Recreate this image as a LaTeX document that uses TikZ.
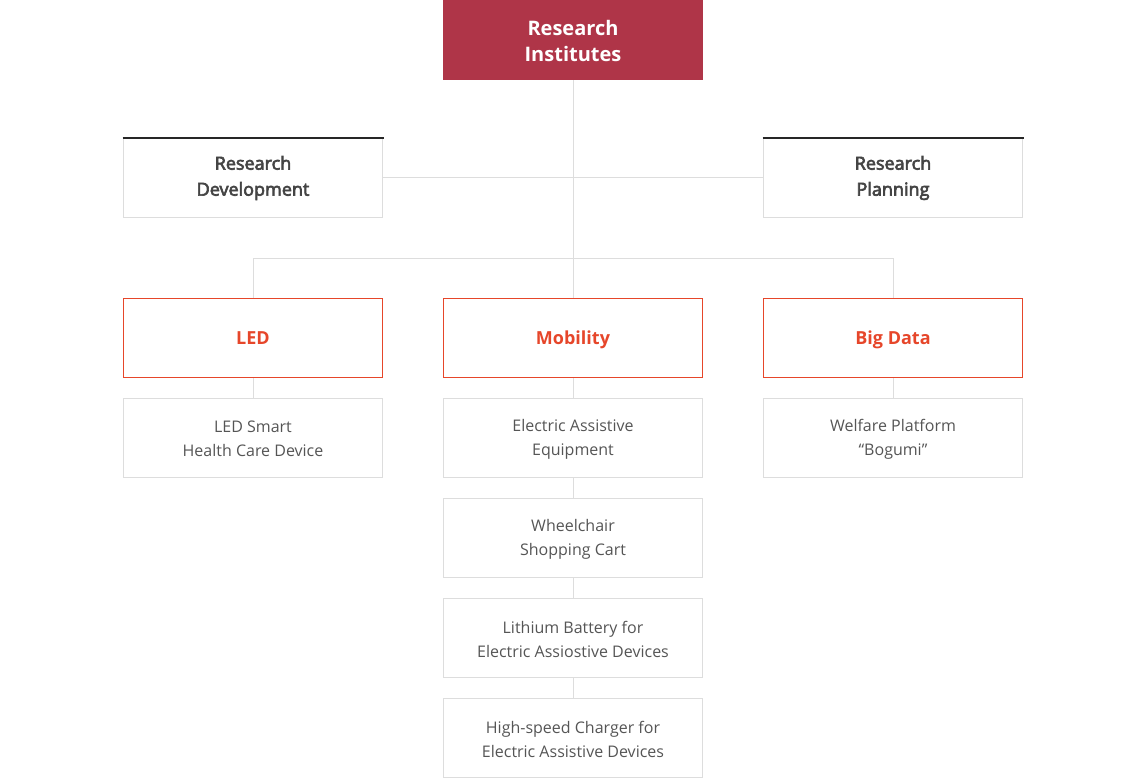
\documentclass[tikz,border=0pt]{standalone}
\usepackage{fontspec}
\setmainfont{Open Sans}
\newfontfamily\semibold{Open Sans}[RawFeature={embolden=3.5}]
\usepackage{xcolor}
\usetikzlibrary{positioning}
\definecolor{instred}{HTML}{AF3548}
\definecolor{deptred}{HTML}{E6462A}
\definecolor{boxgray}{HTML}{DDDDDD}
\definecolor{txtdark}{HTML}{444444}
\definecolor{txtgray}{HTML}{555555}
\tikzset{
    boxtext/.style={inner sep=0pt, align=center},
    headbox/.style={fill=instred, minimum width=260pt, minimum height=80pt, inner sep=0pt,
        label={[boxtext, yshift=-1.5pt, text=white, font=\fontsize{20}{26}\selectfont\bfseries]center:#1}},
    mainbox/.style={draw=boxgray, line width=1pt, minimum width=259pt, minimum height=79pt, inner sep=0pt,
        label={[boxtext, text=txtdark, font=\fontsize{18}{26}\selectfont\semibold]center:#1}},
    deptbox/.style={draw=deptred, line width=1pt, minimum width=259pt, minimum height=79pt, inner sep=0pt,
        label={[boxtext, yshift=-1.5pt, text height=13pt, text depth=4pt, text=deptred,
            font=\fontsize{18}{26}\selectfont\bfseries]center:#1}},
    itembox/.style={draw=boxgray, line width=1pt, minimum width=259pt, minimum height=79pt, inner sep=0pt,
        label={[boxtext, yshift=-1pt, text=txtgray, font=\fontsize{16}{24}\selectfont]center:#1}},
    link/.style={draw=boxgray, line width=1pt}
}
\begin{document}
\begin{tikzpicture}[x=1pt, y=-1pt, node distance=20pt]
    \useasboundingbox (0,0) rectangle (1146,778);
    % top
    \node[headbox={Research\\Institutes}] (inst) at (573,40) {};
    \node[mainbox={Research\\Development}] (rdev) at (253,178) {};
    \node[mainbox={Research\\Planning}] (rplan) at (893,178) {};
    % departments
    \node[deptbox={LED}] (led) at (253,338) {};
    \node[deptbox={Mobility}] (mob) at (573,338) {};
    \node[deptbox={Big Data}] (big) at (893,338) {};
    % items
    \node[itembox={LED Smart\\Health Care Device}, below=of led] (ledsmart) {};
    \node[itembox={Electric Assistive\\Equipment}, below=of mob] (assist) {};
    \node[itembox={Wheelchair\\Shopping Cart}, below=of assist] (wheel) {};
    \node[itembox={Lithium Battery for\\Electric Assiostive Devices}, below=of wheel] (battery) {};
    \node[itembox={High-speed Charger for\\Electric Assistive Devices}, below=of battery] (charger) {};
    \node[itembox={Welfare Platform\\“Bogumi”}, below=of big] (welfare) {};
    \coordinate (split) at (573,258.5);
    % connectors
    \path[link] (inst.south) -- (mob.north);
    \path[link] (rdev.east) -- (rplan.west);
    \path[link] (led.north) -- (led.north |- split) -- (big.north |- split) -- (big.north);
    \path[link] (led) -- (ledsmart);
    \path[link] (big) -- (welfare);
    \path[link] (mob) -- (assist);
    \path[link] (assist) -- (wheel);
    \path[link] (wheel) -- (battery);
    \path[link] (battery) -- (charger);
    \draw[line width=2pt, black!85] ([xshift=-0.5pt]rdev.north west) -- ([xshift=0.5pt]rdev.north east);
    \draw[line width=2pt, black!85] ([xshift=-0.5pt]rplan.north west) -- ([xshift=0.5pt]rplan.north east);
\end{tikzpicture}
\end{document}
